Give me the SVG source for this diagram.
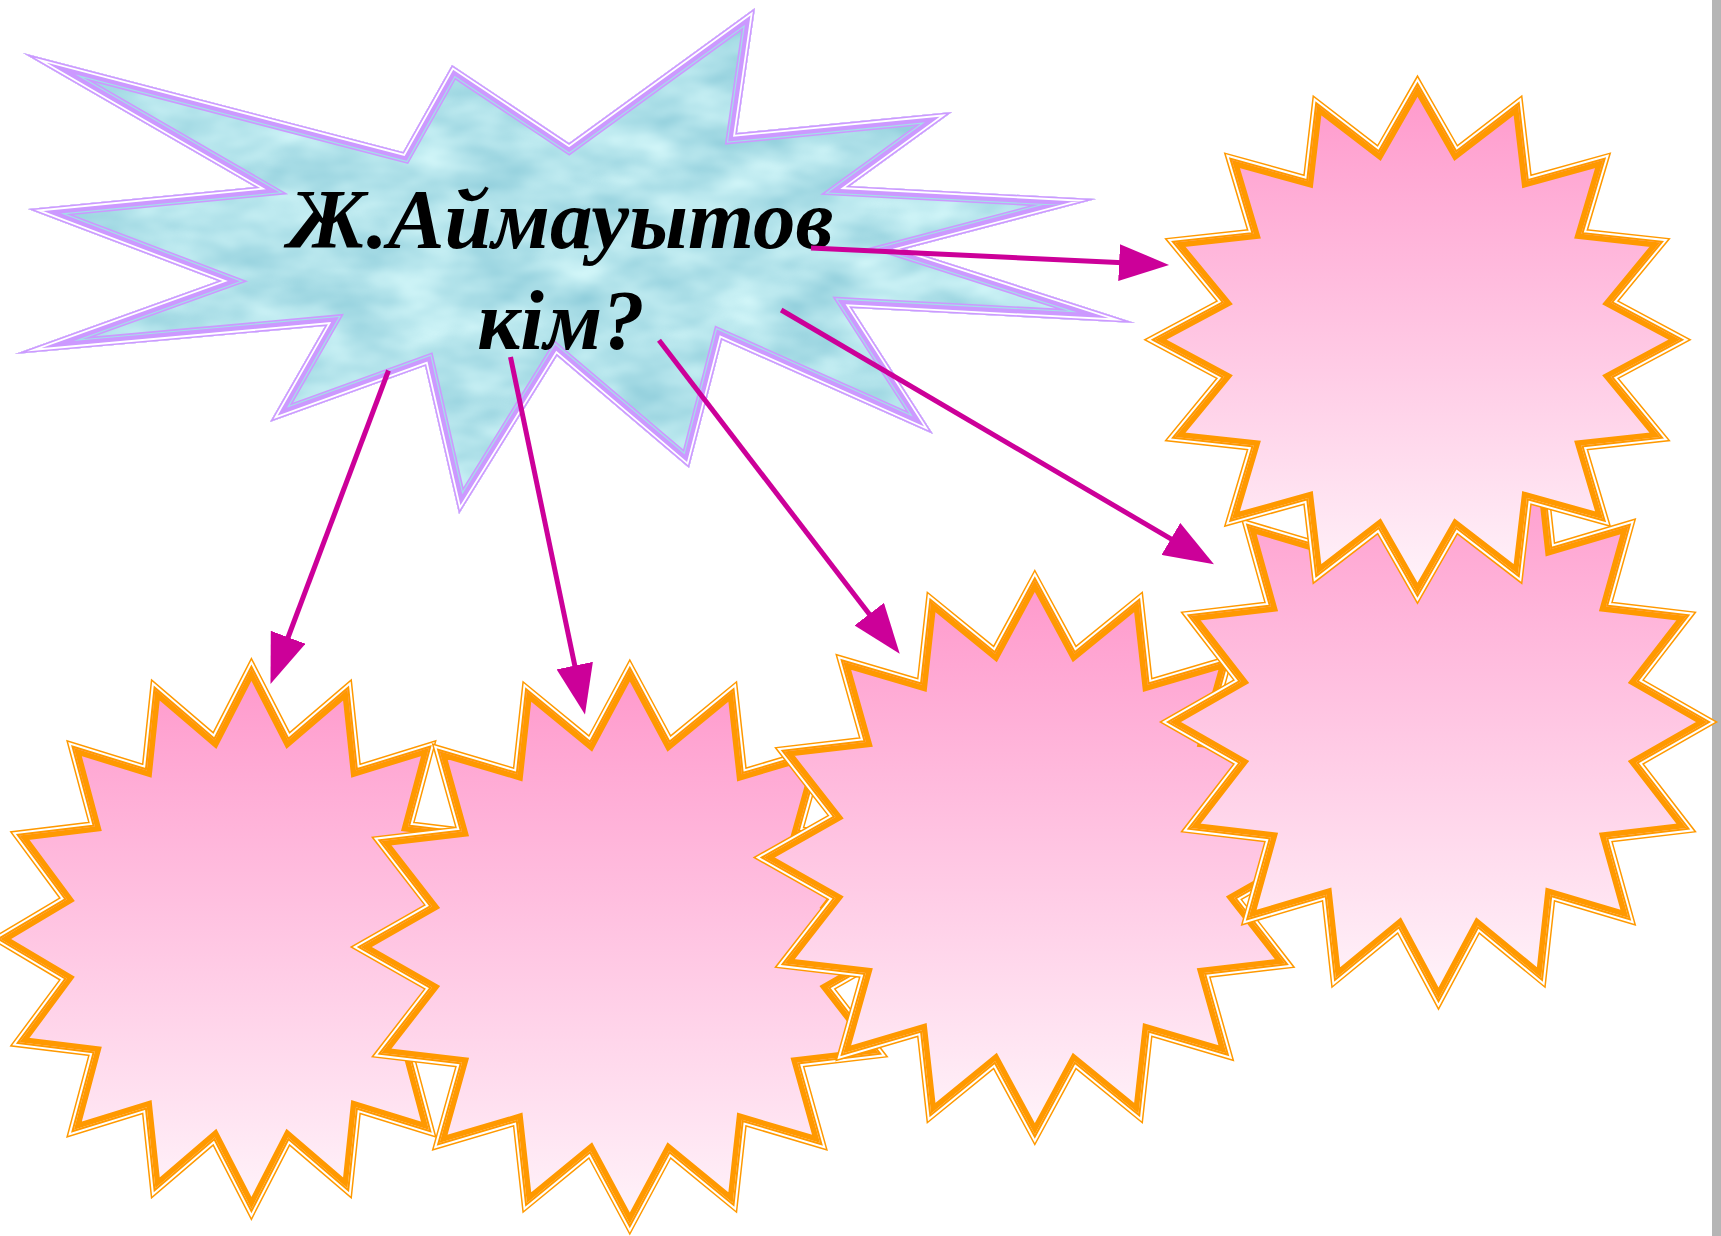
<svg xmlns="http://www.w3.org/2000/svg" width="1721" height="1236" viewBox="0 0 1721 1236">
<style>
  .o1{fill:none;stroke:#FF9900;stroke-width:11;stroke-linejoin:miter;stroke-miterlimit:10}
  .w1{fill:none;stroke:#FFFFFF;stroke-width:8;stroke-linejoin:miter;stroke-miterlimit:10}
  .o2{fill:none;stroke:#FF9900;stroke-width:4;stroke-linejoin:miter;stroke-miterlimit:10}
  .pf{fill:url(#pinkGrad);stroke:none}
  .bp{fill:none;stroke:#CC99FF;stroke-linejoin:miter;stroke-miterlimit:20}
  .bw{fill:none;stroke:#FFFFFF;stroke-linejoin:miter;stroke-miterlimit:20}
  .bc{fill:none;stroke:#A4DEE8;stroke-linejoin:miter;stroke-miterlimit:20}
  .conn{fill:none;stroke:#CC0099;stroke-width:5;marker-end:url(#ah)}
  .label{font-family:"Liberation Serif","Times New Roman",serif;font-weight:bold;font-style:italic;font-size:85px;fill:#000000;text-anchor:middle}
</style>
<defs>
  <linearGradient id="pinkGrad" x1="0" y1="0" x2="0" y2="1">
    <stop offset="0" stop-color="#FF99CC"/>
    <stop offset="1" stop-color="#FFF4FA"/>
  </linearGradient>
  <path id="s16" vector-effect="non-scaling-stroke" d="M0,-1 L0.14632,-0.73559 L0.38268,-0.92388 L0.41668,-0.6236 L0.70711,-0.70711 L0.6236,-0.41668 L0.92388,-0.38268 L0.73559,-0.14632 L1,0 L0.73559,0.14632 L0.92388,0.38268 L0.6236,0.41668 L0.70711,0.70711 L0.41668,0.6236 L0.38268,0.92388 L0.14632,0.73559 L0,1 L-0.14632,0.73559 L-0.38268,0.92388 L-0.41668,0.6236 L-0.70711,0.70711 L-0.6236,0.41668 L-0.92388,0.38268 L-0.73559,0.14632 L-1,0 L-0.73559,-0.14632 L-0.92388,-0.38268 L-0.6236,-0.41668 L-0.70711,-0.70711 L-0.41668,-0.6236 L-0.38268,-0.92388 L-0.14632,-0.73559 Z"/>
  <path id="boom" d="M23,53 L403,152 L452,65 L569,143 L755,8 L737,133 L952,112 L850,186 L1096,199 L905,249 L1135,323 L852,308 L933,434 L722,340 L689,468 L557,356 L459,514 L425,366 L270,422 L325,326 L15,354 L218,281 L28,209 L255,187 Z"/>
  <clipPath id="boomClip"><use href="#boom"/></clipPath>
  <clipPath id="cA"><use href="#s16" transform="translate(251.4,938.9) scale(251,270)"/></clipPath>
  <clipPath id="cB"><use href="#s16" transform="translate(629.8,947) scale(269,277)"/></clipPath>
  <clipPath id="cC"><use href="#s16" transform="translate(1034.8,857.5) scale(271,277)"/></clipPath>
  <clipPath id="cD"><use href="#s16" transform="translate(1438.5,722) scale(268.5,277)"/></clipPath>
  <clipPath id="cE"><use href="#s16" transform="translate(1417.5,339.7) scale(262.6,254)"/></clipPath>
  <filter id="water" x="0" y="0" width="1" height="1" color-interpolation-filters="sRGB">
    <feTurbulence type="fractalNoise" baseFrequency="0.013 0.026" numOctaves="3" seed="7"/>
    <feColorMatrix type="matrix" values="0.36 0 0 0 0.52  0.22 0 0 0 0.78  0.16 0 0 0 0.84  0 0 0 0 1"/>
  </filter>
  <marker id="ah" markerUnits="userSpaceOnUse" viewBox="0 0 50 37" markerWidth="50" markerHeight="37" refX="4" refY="18.5" orient="auto">
    <path d="M0,0 L50,18.5 L0,37 Z" fill="#CC0099"/>
  </marker>
</defs>

<rect x="0" y="0" width="1721" height="1236" fill="#FFFFFF"/>
<rect x="1712" y="0" width="9" height="1236" fill="#B5B5B5"/>

<g id="node-question">
  <g clip-path="url(#boomClip)">
    <rect x="0" y="0" width="1150" height="530" filter="url(#water)"/>
    <use href="#boom" class="bp" stroke-width="20.8"/>
    <use href="#boom" class="bc" stroke-width="17.6"/>
    <use href="#boom" class="bp" stroke-width="15.2"/>
    <use href="#boom" class="bw" stroke-width="6.8"/>
    <use href="#boom" class="bp" stroke-width="3.2"/>
  </g>
  <text class="label" x="561" y="248">Ж.Аймауытов</text>
  <text class="label" x="561" y="349">кім?</text>
</g>

<g id="node-a">
  <use href="#s16" class="o1" transform="translate(251.4,938.9) scale(251,270)"/>
  <use href="#s16" class="w1" transform="translate(251.4,938.9) scale(251,270)"/>
  <use href="#s16" class="o2" transform="translate(251.4,938.9) scale(251,270)"/>
  <use href="#s16" class="pf" transform="translate(251.4,938.9) scale(251,270)"/>
  <g clip-path="url(#cA)"><use href="#s16" class="o1" transform="translate(251.4,938.9) scale(251,270)"/></g>
</g>

<g id="node-b">
  <use href="#s16" class="o1" transform="translate(629.8,947) scale(269,277)"/>
  <use href="#s16" class="w1" transform="translate(629.8,947) scale(269,277)"/>
  <use href="#s16" class="o2" transform="translate(629.8,947) scale(269,277)"/>
  <use href="#s16" class="pf" transform="translate(629.8,947) scale(269,277)"/>
  <g clip-path="url(#cB)"><use href="#s16" class="o1" transform="translate(629.8,947) scale(269,277)"/></g>
</g>

<g id="node-c">
  <use href="#s16" class="o1" transform="translate(1034.8,857.5) scale(271,277)"/>
  <use href="#s16" class="w1" transform="translate(1034.8,857.5) scale(271,277)"/>
  <use href="#s16" class="o2" transform="translate(1034.8,857.5) scale(271,277)"/>
  <use href="#s16" class="pf" transform="translate(1034.8,857.5) scale(271,277)"/>
  <g clip-path="url(#cC)"><use href="#s16" class="o1" transform="translate(1034.8,857.5) scale(271,277)"/></g>
</g>

<g id="node-d">
  <use href="#s16" class="o1" transform="translate(1438.5,722) scale(268.5,277)"/>
  <use href="#s16" class="w1" transform="translate(1438.5,722) scale(268.5,277)"/>
  <use href="#s16" class="o2" transform="translate(1438.5,722) scale(268.5,277)"/>
  <use href="#s16" class="pf" transform="translate(1438.5,722) scale(268.5,277)"/>
  <g clip-path="url(#cD)"><use href="#s16" class="o1" transform="translate(1438.5,722) scale(268.5,277)"/></g>
</g>

<g id="node-e">
  <use href="#s16" class="o1" transform="translate(1417.5,339.7) scale(262.6,254)"/>
  <use href="#s16" class="w1" transform="translate(1417.5,339.7) scale(262.6,254)"/>
  <use href="#s16" class="o2" transform="translate(1417.5,339.7) scale(262.6,254)"/>
  <use href="#s16" class="pf" transform="translate(1417.5,339.7) scale(262.6,254)"/>
  <g clip-path="url(#cE)"><use href="#s16" class="o1" transform="translate(1417.5,339.7) scale(262.6,254)"/></g>
</g>

<g id="connectors">
  <path class="conn" d="M811,248 L1123.1,262.8"/>
  <path class="conn" d="M388.5,370.5 L286.7,641"/>
  <path class="conn" d="M510.5,357 L575.6,669.5"/>
  <path class="conn" d="M659,340.3 L871.7,617.3"/>
  <path class="conn" d="M781.2,310 L1174.3,540.9"/>
</g>
</svg>
